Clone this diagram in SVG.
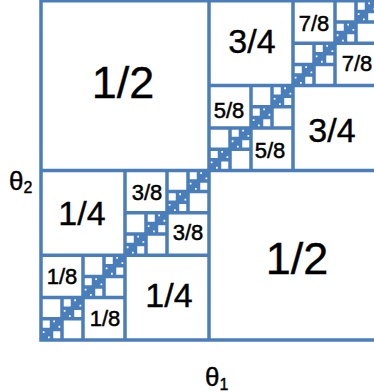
<svg xmlns="http://www.w3.org/2000/svg" width="374" height="392" viewBox="0 0 374 392">
<style>
.g path{fill:none;stroke:#4a7ebb;stroke-width:3.5;vector-effect:non-scaling-stroke}
.g path.diag{stroke-width:4.5}
text{font-family:"Liberation Sans",Arial,sans-serif;fill:#000;text-anchor:middle;stroke:#000;stroke-width:0.4}
.l1{font-size:45px}
.l2{font-size:34px}
.l3{font-size:22px;stroke-width:0.5}
.ax{font-size:26px;text-anchor:start}
.sub{font-size:16px}
</style>
<rect width="374" height="392" fill="#fff"/>
<g id="grid" class="g" transform="translate(41 340) scale(2.625 -2.65)">
<path id="outer" vector-effect="non-scaling-stroke" d="M0 0H128V128H0Z"/>
<path id="level1" vector-effect="non-scaling-stroke" d="M0 64H128M64 0V128"/>
<path id="level2" vector-effect="non-scaling-stroke" d="M0 32H64M32 0V64M64 96H128M96 64V128"/>
<path id="level3" vector-effect="non-scaling-stroke" d="M0 16H32M16 0V32M32 48H64M48 32V64M64 80H96M80 64V96M96 112H128M112 96V128"/>
<path id="level4" vector-effect="non-scaling-stroke" d="M0 8H16M8 0V16M16 24H32M24 16V32M32 40H48M40 32V48M48 56H64M56 48V64M64 72H80M72 64V80M80 88H96M88 80V96M96 104H112M104 96V112M112 120H128M120 112V128"/>
<path id="level5" vector-effect="non-scaling-stroke" d="M0 4H8M4 0V8M8 12H16M12 8V16M16 20H24M20 16V24M24 28H32M28 24V32M32 36H40M36 32V40M40 44H48M44 40V48M48 52H56M52 48V56M56 60H64M60 56V64M64 68H72M68 64V72M72 76H80M76 72V80M80 84H88M84 80V88M88 92H96M92 88V96M96 100H104M100 96V104M104 108H112M108 104V112M112 116H120M116 112V120M120 124H128M124 120V128"/>
<path id="level6" vector-effect="non-scaling-stroke" d="M0 2H4M2 0V4M4 6H8M6 4V8M8 10H12M10 8V12M12 14H16M14 12V16M16 18H20M18 16V20M20 22H24M22 20V24M24 26H28M26 24V28M28 30H32M30 28V32M32 34H36M34 32V36M36 38H40M38 36V40M40 42H44M42 40V44M44 46H48M46 44V48M48 50H52M50 48V52M52 54H56M54 52V56M56 58H60M58 56V60M60 62H64M62 60V64M64 66H68M66 64V68M68 70H72M70 68V72M72 74H76M74 72V76M76 78H80M78 76V80M80 82H84M82 80V84M84 86H88M86 84V88M88 90H92M90 88V92M92 94H96M94 92V96M96 98H100M98 96V100M100 102H104M102 100V104M104 106H108M106 104V108M108 110H112M110 108V112M112 114H116M114 112V116M116 118H120M118 116V120M120 122H124M122 120V124M124 126H128M126 124V128"/>
<path id="finest" class="diag" vector-effect="non-scaling-stroke" d="M0 0L128 128"/>
</g>
<g id="labels">
<text class="l1" x="123" y="98">1/2</text>
<text class="l1" x="297" y="274">1/2</text>
<text class="l2" x="82" y="225">1/4</text>
<text class="l2" x="169" y="307">1/4</text>
<text class="l2" x="252" y="53">3/4</text>
<text class="l2" x="332" y="142">3/4</text>
<text class="l3" x="62" y="284">1/8</text>
<text class="l3" x="105" y="326">1/8</text>
<text class="l3" x="147" y="200">3/8</text>
<text class="l3" x="188" y="240">3/8</text>
<text class="l3" x="229" y="118">5/8</text>
<text class="l3" x="270" y="158">5/8</text>
<text class="l3" x="314" y="31">7/8</text>
<text class="l3" x="357" y="71">7/8</text>
</g>
<g id="axes">
<text class="ax" x="9" y="190">θ<tspan class="sub" dy="3">2</tspan></text>
<text class="ax" x="205" y="386">θ<tspan class="sub" dy="4">1</tspan></text>
</g>
</svg>
